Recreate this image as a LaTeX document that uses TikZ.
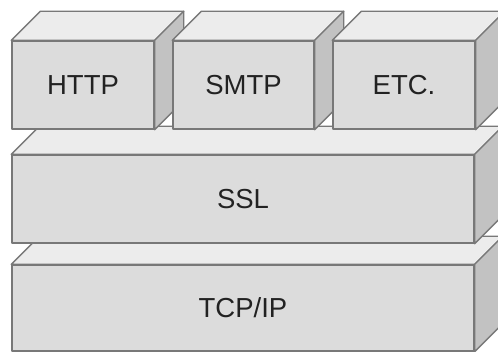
\documentclass[tikz,border=0pt]{standalone}
\usepackage{fontspec}
\setmainfont{Liberation Sans}
\definecolor{frontc}{HTML}{DCDCDC}
\definecolor{topc}{HTML}{ECECEC}
\definecolor{sidec}{HTML}{C2C2C2}
\definecolor{edgec}{HTML}{787878}
\definecolor{txtc}{HTML}{222222}
\tikzset{
  front/.style={draw=edgec, fill=frontc, line width=1.4pt, inner sep=0pt,
    text=txtc, font=\fontsize{27.5}{28}\selectfont, line join=round},
  topface/.style={draw=edgec, fill=topc, line width=1.4pt, line join=round},
  sideface/.style={draw=edgec, fill=sidec, line width=1.4pt, line join=round}
}
\begin{document}
\begin{tikzpicture}[x=1pt,y=-1pt]
\clip (0,0) rectangle (498,352);
\fill[white] (0,0) rectangle (498,352);
% TCP/IP layer
\node[front, minimum width=462pt, minimum height=86pt] (tcp) at (243,308) {TCP/IP};
\draw[topface] (tcp.north west) -- ++(28,-28) -- ([shift={(28,-28)}]tcp.north east) -- (tcp.north east) -- cycle;
\draw[sideface] (tcp.north east) -- ++(28,-28) -- ([shift={(28,-28)}]tcp.south east) -- (tcp.south east) -- cycle;
% SSL layer
\node[front, minimum width=462pt, minimum height=88pt] (ssl) at (243,199) {SSL};
\draw[topface] (ssl.north west) -- ++(28,-28) -- ([shift={(28,-28)}]ssl.north east) -- (ssl.north east) -- cycle;
\draw[sideface] (ssl.north east) -- ++(28,-28) -- ([shift={(28,-28)}]ssl.south east) -- (ssl.south east) -- cycle;
% top boxes
\foreach \nm/\cx/\w/\lbl in {http/83/142/HTTP, smtp/243.5/141/SMTP, etc/404/142/ETC.}{
  \node[front, minimum width=\w pt, minimum height=88pt] (\nm) at (\cx,85) {\lbl};
  \draw[topface] (\nm.north west) -- ++(29,-29) -- ([shift={(29,-29)}]\nm.north east) -- (\nm.north east) -- cycle;
  \draw[sideface] (\nm.north east) -- ++(29,-29) -- ([shift={(29,-29)}]\nm.south east) -- (\nm.south east) -- cycle;
}
\end{tikzpicture}
\end{document}
